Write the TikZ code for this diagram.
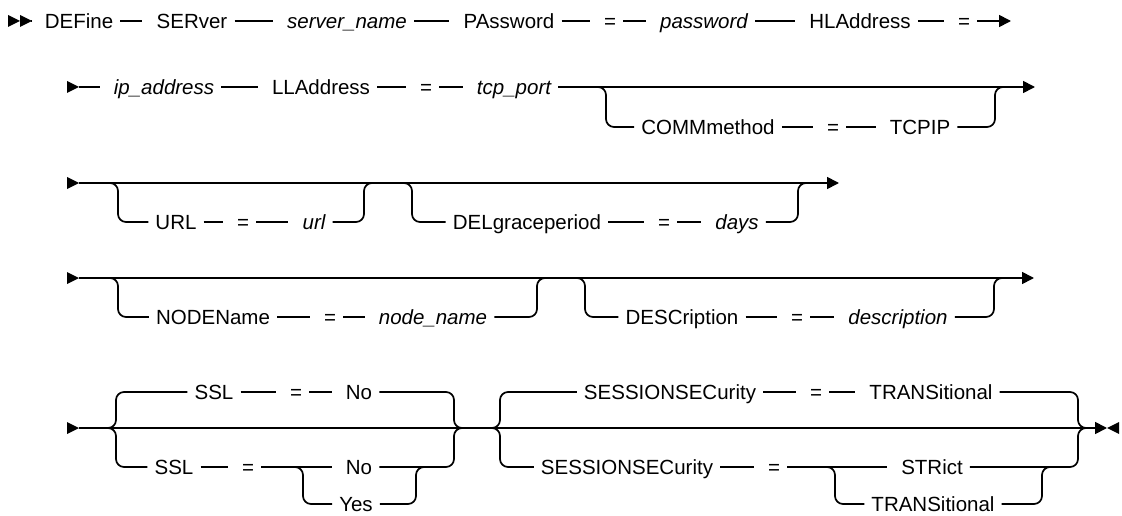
\documentclass[tikz,border=0pt]{standalone}
\usepackage{fontspec}
\setmainfont{Liberation Sans}
\usetikzlibrary{arrows.meta}
\begin{document}
\begin{tikzpicture}[x=1pt,y=-1pt,
  kw/.style={font=\fontsize{20.5}{24}\selectfont, inner xsep=7pt, inner ysep=0pt, text height=14.7pt, text depth=0pt, anchor=center},
  var/.style={kw, font=\fontsize{20.5}{24}\selectfont\itshape},
  ln/.style={line width=1.7pt},
  lk/.style={ln, shorten >=7pt},
  br/.style={ln, rounded corners=8pt},
  tip/.style={ln, -{Triangle[length=12pt,width=12pt]}},
  starttri/.style={fill=black}
]
\useasboundingbox (0,0) rectangle (1122,516);

% ---------------- Row 1 ----------------
\fill[starttri] (8,15) -- (20,21) -- (8,27) -- cycle;
\fill[starttri] (20,15) -- (32,21) -- (20,27) -- cycle;
\coordinate (s1) at (32,21);
\node[kw] (define) at (79,21) {DEFine};
\node[kw] (server) at (192,21) {SERver};
\node[var] (sname) at (347,21) {server\_name};
\node[kw] (pw) at (509,21) {PAssword};
\node[kw] (eq1) at (610,21) {=};
\node[var] (pwv) at (704,21) {password};
\node[kw] (hl) at (860,21) {HLAddress};
\node[kw] (eq2) at (964,21) {=};
\coordinate (e1) at (1011,21);
\draw[lk] (s1) -- (define);
\draw[lk] (define) -- (server);
\draw[lk] (server) -- (sname);
\draw[lk] (sname) -- (pw);
\draw[lk] (pw) -- (eq1);
\draw[lk] (eq1) -- (pwv);
\draw[lk] (pwv) -- (hl);
\draw[lk] (hl) -- (eq2);
\draw[tip] (eq2) -- (e1);

% ---------------- Row 2 ----------------
\fill[starttri] (67,81) -- (79,87) -- (67,93) -- cycle;
\coordinate (s2) at (79,87);
\node[var] (ip) at (164,87) {ip\_address};
\node[kw] (ll) at (321,87) {LLAddress};
\node[kw] (eq3) at (426,87) {=};
\node[var] (tcp) at (514,87) {tcp\_port};
\coordinate (j2a) at (606,87);
\coordinate (j2b) at (995,87);
\coordinate (e2) at (1035,87);
\node[kw] (comm) at (708,127) {COMMmethod};
\node[kw] (eq4) at (833,127) {=};
\node[kw] (tcpip) at (920,127) {TCPIP};
\draw[lk] (s2) -- (ip);
\draw[lk] (ip) -- (ll);
\draw[lk] (ll) -- (eq3);
\draw[lk] (eq3) -- (tcp);
\draw[tip] (tcp) -- (e2);
\draw[br] ([xshift=-16pt]j2a) -- (j2a) -- (j2a |- comm) -- (comm);
\draw[lk] (comm) -- (eq4);
\draw[lk] (eq4) -- (tcpip);
\draw[br] (tcpip) -- (tcpip -| j2b) -- (j2b) -- ([xshift=16pt]j2b);

% ---------------- Row 3 ----------------
\fill[starttri] (67,177) -- (79,183) -- (67,189) -- cycle;
\coordinate (s3) at (79,183);
\coordinate (j3a) at (118,183);
\coordinate (j3b) at (364,183);
\coordinate (j3c) at (412,183);
\coordinate (j3d) at (798,183);
\coordinate (e3) at (839,183);
\node[kw] (url) at (176,222) {URL};
\node[kw] (eq5) at (243,222) {=};
\node[var] (urlv) at (314,222) {url};
\node[kw] (del) at (527,222) {DELgraceperiod};
\node[kw] (eq6) at (664,222) {=};
\node[var] (days) at (737,222) {days};
\draw[tip] (s3) -- (e3);
\draw[br] ([xshift=-16pt]j3a) -- (j3a) -- (j3a |- url) -- (url);
\draw[lk] (url) -- (eq5);
\draw[lk] (eq5) -- (urlv);
\draw[br] (urlv) -- (urlv -| j3b) -- (j3b) -- ([xshift=16pt]j3b);
\draw[br] ([xshift=-16pt]j3c) -- (j3c) -- (j3c |- del) -- (del);
\draw[lk] (del) -- (eq6);
\draw[lk] (eq6) -- (days);
\draw[br] (days) -- (days -| j3d) -- (j3d) -- ([xshift=16pt]j3d);

% ---------------- Row 4 ----------------
\fill[starttri] (67,272) -- (79,278) -- (67,284) -- cycle;
\coordinate (s4) at (79,278);
\coordinate (j4a) at (118,278);
\coordinate (j4b) at (537,278);
\coordinate (j4c) at (585,278);
\coordinate (j4d) at (994,278);
\coordinate (e4) at (1034,278);
\node[kw] (nodename) at (213,317) {NODEName};
\node[kw] (eq7) at (330,317) {=};
\node[var] (nodev) at (433,317) {node\_name};
\node[kw] (desc) at (682,317) {DESCription};
\node[kw] (eq8) at (797,317) {=};
\node[var] (descv) at (898,317) {description};
\draw[tip] (s4) -- (e4);
\draw[br] ([xshift=-16pt]j4a) -- (j4a) -- (j4a |- nodename) -- (nodename);
\draw[lk] (nodename) -- (eq7);
\draw[lk] (eq7) -- (nodev);
\draw[br] (nodev) -- (nodev -| j4b) -- (j4b) -- ([xshift=16pt]j4b);
\draw[br] ([xshift=-16pt]j4c) -- (j4c) -- (j4c |- desc) -- (desc);
\draw[lk] (desc) -- (eq8);
\draw[lk] (eq8) -- (descv);
\draw[br] (descv) -- (descv -| j4d) -- (j4d) -- ([xshift=16pt]j4d);

% ---------------- Row 5 ----------------
\fill[starttri] (67,422) -- (79,428) -- (67,434) -- cycle;
\coordinate (s5) at (79,428);
\coordinate (g1a) at (116,428);
\coordinate (g1b) at (454,428);
\coordinate (g2a) at (500,428);
\coordinate (g2b) at (1078,428);
\coordinate (i1a) at (303,467);
\coordinate (i1b) at (416,467);
\coordinate (i2a) at (835,467);
\coordinate (i2b) at (1042,467);
\coordinate (e5) at (1107,428);
% group 1 texts
\node[kw] (ssla) at (214,392) {SSL};
\node[kw] (eq9) at (296,392) {=};
\node[kw] (noa) at (359,392) {No};
\node[kw] (sslb) at (174,467) {SSL};
\node[kw] (eq10) at (248,467) {=};
\node[kw] (nob) at (359,467) {No};
\node[kw] (yes) at (356,504) {Yes};
% group 2 texts
\node[kw] (sesa) at (670,392) {SESSIONSECurity};
\node[kw] (eq11) at (816,392) {=};
\node[kw] (transa) at (931,392) {TRANSitional};
\node[kw] (sesb) at (627,467) {SESSIONSECurity};
\node[kw] (eq12) at (774,467) {=};
\node[kw] (strict) at (932,467) {STRict};
\node[kw] (transb) at (933,504) {TRANSitional};
% main line and end
\draw[tip] (s5) -- (e5);
\fill[starttri] (1119,422) -- (1107,428) -- (1119,434) -- cycle;
% group 1
\draw[br] ([xshift=-16pt]g1a) -- (g1a) -- (g1a |- ssla) -- (ssla);
\draw[lk] (ssla) -- (eq9);
\draw[lk] (eq9) -- (noa);
\draw[br] (noa) -- (noa -| g1b) -- (g1b) -- ([xshift=16pt]g1b);
\draw[br] ([xshift=-16pt]g1a) -- (g1a) -- (g1a |- sslb) -- (sslb);
\draw[lk] (sslb) -- (eq10);
\draw[lk] (eq10) -- (nob);
\draw[br] (nob) -- (nob -| g1b) -- (g1b) -- ([xshift=16pt]g1b);
\draw[br] ([xshift=-16pt]i1a) -- (i1a) -- (i1a |- yes) -- (yes);
\draw[br] (yes) -- (yes -| i1b) -- (i1b) -- ([xshift=16pt]i1b);
% group 2
\draw[br] ([xshift=-16pt]g2a) -- (g2a) -- (g2a |- sesa) -- (sesa);
\draw[lk] (sesa) -- (eq11);
\draw[lk] (eq11) -- (transa);
\draw[br] (transa) -- (transa -| g2b) -- (g2b) -- ([xshift=16pt]g2b);
\draw[br] ([xshift=-16pt]g2a) -- (g2a) -- (g2a |- sesb) -- (sesb);
\draw[lk] (sesb) -- (eq12);
\draw[lk] (eq12) -- (strict);
\draw[br] (strict) -- (strict -| g2b) -- (g2b) -- ([xshift=16pt]g2b);
\draw[br] ([xshift=-16pt]i2a) -- (i2a) -- (i2a |- transb) -- (transb);
\draw[br] (transb) -- (transb -| i2b) -- (i2b) -- ([xshift=16pt]i2b);
\end{tikzpicture}
\end{document}
